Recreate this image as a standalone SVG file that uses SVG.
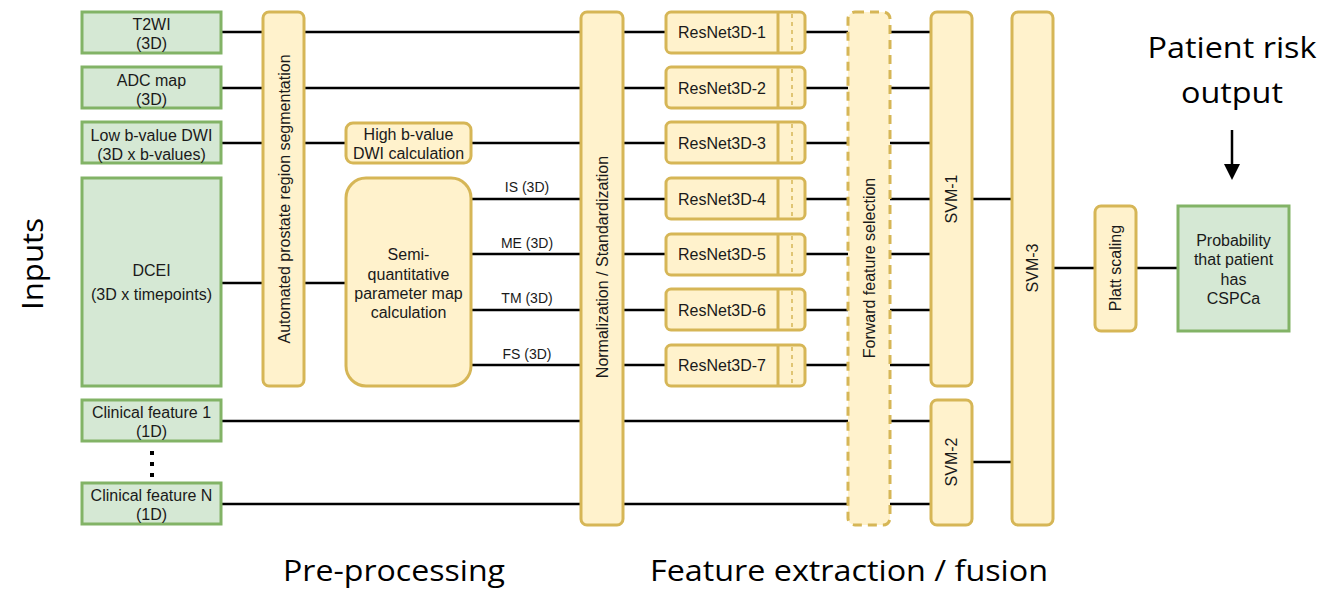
<svg xmlns="http://www.w3.org/2000/svg" width="1324" height="589" viewBox="0 0 1324 589">
<style>
  .in { fill: #d5e8d4; stroke: #82b366; stroke-width: 3; }
  .op { fill: #fff2cc; stroke: #d6b656; stroke-width: 3; }
  .dash { fill: #fff2cc; stroke: #d6b656; stroke-width: 3; stroke-dasharray: 9 6; }
  .inner { stroke: #d6b656; stroke-width: 1.5; stroke-dasharray: 4 4; fill: none; }
  .wire { stroke: #000; stroke-width: 2.5; fill: none; }
  .t { font-family: "Liberation Sans", sans-serif; font-size: 16px; fill: #1a1a1a; text-anchor: middle; }
  .s { font-size: 14px; }
  .big { font-family: "Open Sans", sans-serif; font-size: 30px; fill: #000; text-anchor: middle; }
</style>
<rect width="1324" height="589" fill="#fff"/>

<!-- connectors -->
<g id="connectors">
  <g class="wire">
    <path d="M221 32H263M304 32H581M623 32H666M805 32H848M890 32H931"/>
    <path d="M221 88H263M304 88H581M623 88H666M805 88H848M890 88H931"/>
    <path d="M221 143H263M304 143H346M471 143H581M623 143H666M805 143H848M890 143H931"/>
    <path d="M221 283H263M304 283H346"/>
    <path d="M471 199H581M623 199H666M805 199H848M890 199H931"/>
    <path d="M471 254H581M623 254H666M805 254H848M890 254H931"/>
    <path d="M471 310H581M623 310H666M805 310H848M890 310H931"/>
    <path d="M471 365H581M623 365H666M805 365H848M890 365H931"/>
    <path d="M221 421H581M623 421H848M890 421H931"/>
    <path d="M221 504H581M623 504H848M890 504H931"/>
    <path d="M972 199H1012M972 462H1012M1053 268H1095M1136 268H1178"/>
    <path d="M1232 130V166"/>
  </g>
  <path d="M1224 164L1240 164L1232 180Z" fill="#000"/>
</g>

<!-- inputs -->
<g id="in-t2wi"><rect class="in" x="82" y="12" width="139" height="41"/><text class="t" x="151.5" y="30">T2WI</text><text class="t" x="151.5" y="49">(3D)</text></g>
<g id="in-adc"><rect class="in" x="82" y="67" width="139" height="41"/><text class="t" x="151.5" y="86">ADC map</text><text class="t" x="151.5" y="105">(3D)</text></g>
<g id="in-dwi"><rect class="in" x="82" y="122" width="139" height="41"/><text class="t" x="151.5" y="141">Low b-value DWI</text><text class="t" x="151.5" y="160">(3D x b-values)</text></g>
<g id="in-dcei"><rect class="in" x="82" y="178" width="139" height="208"/><text class="t" x="151.5" y="276">DCEI</text><text class="t" x="151.5" y="300">(3D x timepoints)</text></g>
<g id="in-clin1"><rect class="in" x="82" y="400" width="139" height="41"/><text class="t" x="151.5" y="418">Clinical feature 1</text><text class="t" x="151.5" y="437">(1D)</text></g>
<g id="in-dots" fill="#000"><rect x="150" y="451" width="4" height="4"/><rect x="150" y="462" width="4" height="4"/><rect x="150" y="473" width="4" height="4"/></g>
<g id="in-clinN"><rect class="in" x="82" y="483" width="139" height="41"/><text class="t" x="151.5" y="501">Clinical feature N</text><text class="t" x="151.5" y="520">(1D)</text></g>

<!-- pre-processing -->
<g id="seg"><rect class="op" x="263" y="12" width="41" height="374" rx="6"/><text class="t" transform="translate(289.5 199) rotate(-90)">Automated prostate region segmentation</text></g>
<g id="highb"><rect class="op" x="346" y="123" width="125" height="40" rx="7"/><text class="t" x="408.5" y="140">High b-value</text><text class="t" x="408.5" y="159">DWI calculation</text></g>
<g id="semi"><rect class="op" x="346" y="178" width="125" height="208" rx="20"/>
  <text class="t" x="408.5" y="260">Semi-</text><text class="t" x="408.5" y="280">quantitative</text><text class="t" x="408.5" y="299">parameter map</text><text class="t" x="408.5" y="318">calculation</text></g>
<g id="map-labels"><text class="t s" x="527" y="192">IS (3D)</text><text class="t s" x="527" y="248">ME (3D)</text><text class="t s" x="527" y="303">TM (3D)</text><text class="t s" x="527" y="359">FS (3D)</text></g>
<g id="norm"><rect class="op" x="581" y="12" width="42" height="513" rx="6"/><text class="t" transform="translate(608 267) rotate(-90)">Normalization / Standardization</text></g>

<!-- feature extraction -->
<g id="resnet1"><rect class="op" x="666" y="12" width="139" height="41" rx="5"/><line class="op" x1="778" y1="12" x2="778" y2="53"/><line class="inner" x1="792" y1="14" x2="792" y2="51"/><text class="t" x="722" y="38">ResNet3D-1</text></g>
<g id="resnet2"><rect class="op" x="666" y="67" width="139" height="41" rx="5"/><line class="op" x1="778" y1="67" x2="778" y2="108"/><line class="inner" x1="792" y1="69" x2="792" y2="106"/><text class="t" x="722" y="94">ResNet3D-2</text></g>
<g id="resnet3"><rect class="op" x="666" y="122" width="139" height="41" rx="5"/><line class="op" x1="778" y1="122" x2="778" y2="163"/><line class="inner" x1="792" y1="124" x2="792" y2="161"/><text class="t" x="722" y="149">ResNet3D-3</text></g>
<g id="resnet4"><rect class="op" x="666" y="178" width="139" height="41" rx="5"/><line class="op" x1="778" y1="178" x2="778" y2="219"/><line class="inner" x1="792" y1="180" x2="792" y2="217"/><text class="t" x="722" y="205">ResNet3D-4</text></g>
<g id="resnet5"><rect class="op" x="666" y="234" width="139" height="41" rx="5"/><line class="op" x1="778" y1="234" x2="778" y2="275"/><line class="inner" x1="792" y1="236" x2="792" y2="273"/><text class="t" x="722" y="260">ResNet3D-5</text></g>
<g id="resnet6"><rect class="op" x="666" y="289" width="139" height="41" rx="5"/><line class="op" x1="778" y1="289" x2="778" y2="330"/><line class="inner" x1="792" y1="291" x2="792" y2="328"/><text class="t" x="722" y="316">ResNet3D-6</text></g>
<g id="resnet7"><rect class="op" x="666" y="345" width="139" height="41" rx="5"/><line class="op" x1="778" y1="345" x2="778" y2="386"/><line class="inner" x1="792" y1="347" x2="792" y2="384"/><text class="t" x="722" y="371">ResNet3D-7</text></g>
<g id="ffs"><rect class="dash" x="848" y="12" width="42" height="513" rx="7"/><text class="t" transform="translate(875 268) rotate(-90)">Forward feature selection</text></g>
<g id="svm1"><rect class="op" x="931" y="12" width="41" height="374" rx="6"/><text class="t" transform="translate(957 199) rotate(-90)">SVM-1</text></g>
<g id="svm2"><rect class="op" x="931" y="400" width="41" height="125" rx="6"/><text class="t" transform="translate(957 462) rotate(-90)">SVM-2</text></g>
<g id="svm3"><rect class="op" x="1012" y="12" width="41" height="513" rx="6"/><text class="t" transform="translate(1038 268) rotate(-90)">SVM-3</text></g>
<g id="platt"><rect class="op" x="1095" y="206" width="41" height="125" rx="6"/><text class="t" transform="translate(1121 268) rotate(-90)">Platt scaling</text></g>
<g id="prob"><rect class="in" x="1178" y="206" width="111" height="125"/>
  <text class="t" x="1233.5" y="246">Probability</text><text class="t" x="1233.5" y="265">that patient</text><text class="t" x="1233.5" y="285">has</text><text class="t" x="1233.5" y="304">CSPCa</text></g>

<!-- section captions -->
<g id="captions">
  <text class="big" x="1232" y="58" textLength="169" lengthAdjust="spacingAndGlyphs">Patient risk</text>
  <text class="big" x="1232" y="103" textLength="102" lengthAdjust="spacingAndGlyphs">output</text>
  <text class="big" transform="translate(43 264) rotate(-90)" textLength="92" lengthAdjust="spacingAndGlyphs">Inputs</text>
  <text class="big" x="394" y="581" textLength="222" lengthAdjust="spacingAndGlyphs">Pre-processing</text>
  <text class="big" x="849" y="581" textLength="398" lengthAdjust="spacingAndGlyphs">Feature extraction / fusion</text>
</g>
</svg>
